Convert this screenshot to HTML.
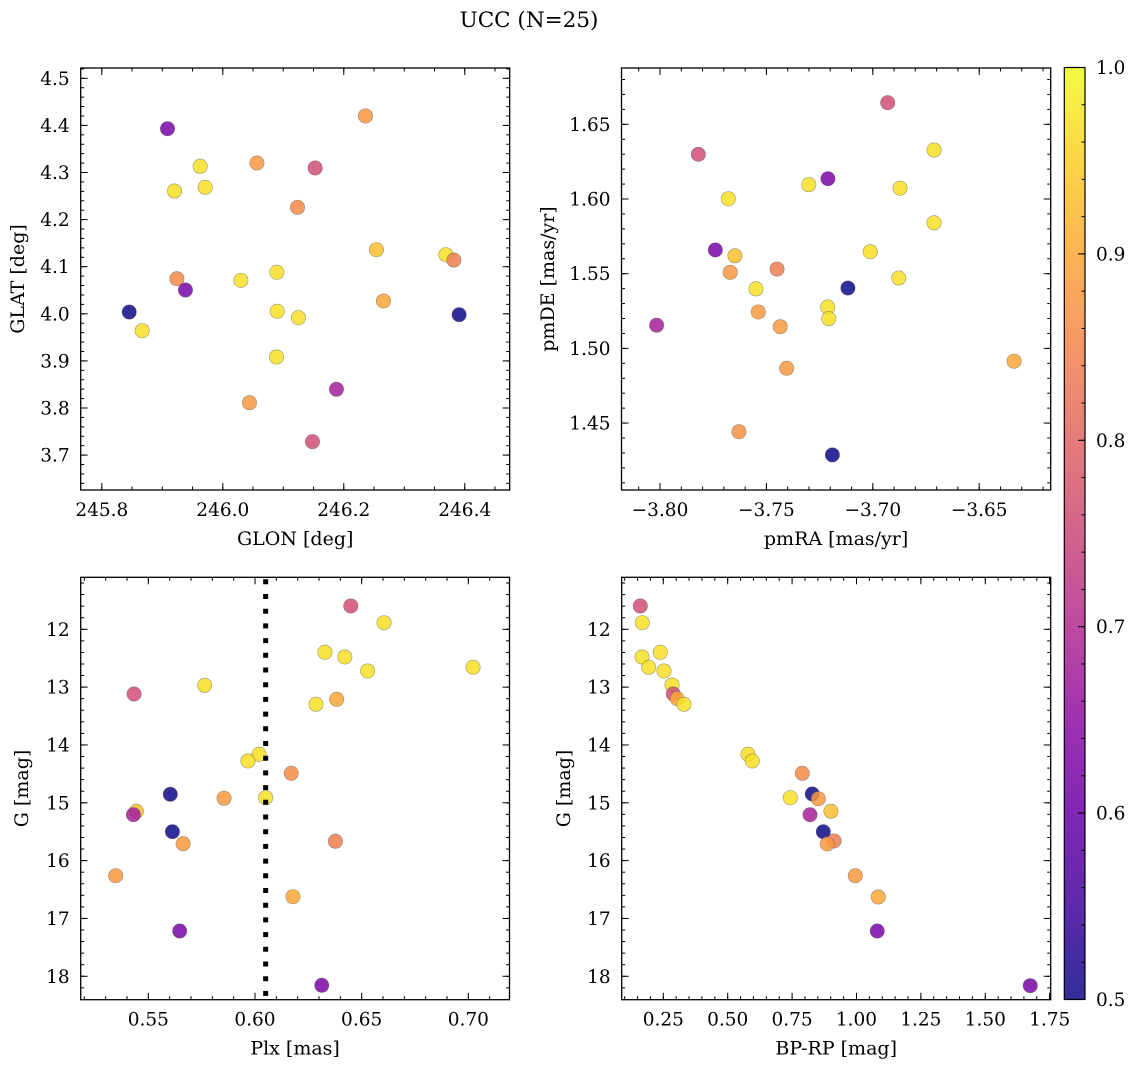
<!DOCTYPE html>
<html><head><meta charset="utf-8"><style>
html,body{margin:0;padding:0;background:#fff;}
svg{display:block;font-family:"DejaVu Serif","Liberation Serif",serif;}
</style></head><body>
<svg id="fig" width="1136" height="1067" viewBox="0 0 1136 1067" xmlns="http://www.w3.org/2000/svg">
<text x="529" y="27" font-size="21.5" text-anchor="middle">UCC (N=25)</text>
<defs><linearGradient id="cbgrad" x1="0" y1="1" x2="0" y2="0"></linearGradient></defs>
</svg>
<script>
// ---- data ----
const glon = [245.9086,246.2359,245.9626,246.0564,246.1527,245.9202,245.9709,246.1235,246.2540,246.3688,246.3820,246.0894,246.0299,245.9241,245.9383,246.2656,245.8453,246.0899,246.1251,246.3907,245.8668,246.0888,246.0441,246.1879,246.1483];
const glat = [4.3930,4.4200,4.3132,4.3202,4.3096,4.2607,4.2686,4.2261,4.1361,4.1255,4.1142,4.0881,4.0711,4.0745,4.0505,4.0272,4.0038,4.0053,3.9917,3.9981,3.9641,3.9083,3.8112,3.8397,3.7285];
const probTL = [0.62,0.88,0.97,0.88,0.76,0.97,0.97,0.86,0.93,0.97,0.84,0.97,0.97,0.86,0.62,0.9,0.5,0.97,0.97,0.5,0.97,0.97,0.88,0.68,0.76];

const pmra = [-3.6930,-3.7820,-3.6712,-3.7211,-3.7301,-3.6872,-3.7679,-3.6712,-3.7740,-3.7648,-3.7012,-3.7670,-3.7450,-3.6878,-3.7549,-3.7117,-3.7212,-3.7207,-3.8016,-3.7538,-3.7435,-3.6336,-3.7405,-3.7629,-3.7190];
const pmde = [1.6645,1.6299,1.6328,1.6136,1.6096,1.6072,1.6002,1.5841,1.5659,1.5620,1.5647,1.5509,1.5531,1.5471,1.5398,1.5404,1.5277,1.5199,1.5155,1.5244,1.5145,1.4914,1.4867,1.4442,1.4287];
const probTR = [0.76,0.76,0.97,0.62,0.97,0.97,0.97,0.97,0.62,0.93,0.97,0.88,0.84,0.97,0.97,0.5,0.97,0.97,0.68,0.88,0.88,0.9,0.88,0.87,0.5];

const plx = [0.6449,0.6605,0.6328,0.6421,0.6528,0.7022,0.5764,0.5433,0.6383,0.6286,0.6019,0.5967,0.6170,0.5603,0.5855,0.6050,0.5444,0.5430,0.5613,0.5663,0.6377,0.5347,0.6178,0.5647,0.6313];
const gmagBL = [11.597,11.886,12.398,12.479,12.721,12.657,12.968,13.119,13.210,13.297,14.161,14.277,14.490,14.853,14.922,14.912,15.147,15.206,15.500,15.707,15.666,16.261,16.624,17.217,18.156];
const probBL = [0.76,0.97,0.97,0.97,0.97,0.97,0.97,0.76,0.9,0.97,0.97,0.97,0.86,0.5,0.88,0.97,0.93,0.68,0.5,0.88,0.84,0.88,0.9,0.62,0.62];

const bprp = [0.1607,0.1685,0.1673,0.2384,0.1933,0.2527,0.2838,0.2888,0.3043,0.3304,0.5788,0.5955,0.7896,0.7430,0.8284,0.8517,0.9010,0.8195,0.8711,0.9127,0.8866,0.9953,1.0846,1.0807,1.6747];
const gmagBR = [11.597,11.886,12.479,12.398,12.657,12.721,12.963,13.119,13.200,13.297,14.161,14.277,14.490,14.912,14.848,14.930,15.147,15.206,15.500,15.660,15.712,16.261,16.629,17.217,18.163];
const probBR = [0.76,0.97,0.97,0.97,0.97,0.97,0.97,0.76,0.9,0.97,0.97,0.97,0.86,0.97,0.5,0.88,0.93,0.68,0.5,0.84,0.88,0.88,0.9,0.62,0.62];

const plxLine = 0.605;

const glonTicks = [245.8,246.0,246.2,246.4];
const glatTicks = [3.7,3.8,3.9,4.0,4.1,4.2,4.3,4.4,4.5];
const pmraTicks = [-3.80,-3.75,-3.70,-3.65];
const pmdeTicks = [1.45,1.50,1.55,1.60,1.65];
const plxTicks = [0.55,0.60,0.65,0.70];
const gTicks = [12,13,14,15,16,17,18];
const bprpTicks = [0.25,0.50,0.75,1.00,1.25,1.50,1.75];
const cbTicks = [0.5,0.6,0.7,0.8,0.9,1.0];

// ---- rendering ----
const NS = "http://www.w3.org/2000/svg";
const svg = document.getElementById('fig');
const plasma = [[13,8,135],[65,4,157],[106,0,168],[143,13,164],[177,42,144],[204,71,120],[225,100,98],[242,132,75],[252,166,54],[252,206,37],[240,249,33]];
function cmap(t){t=Math.max(0,Math.min(1,t));const f=t*10,i=Math.min(9,Math.floor(f)),r=f-i;const a=plasma[i],b=plasma[i+1];
return 'rgb('+a.map((c,k)=>Math.round(c+(b[k]-c)*r)).join(',')+')';}
const vmin=0.5,vmax=1.0;
const TF=18.5, LF=19;
function mk(tag,attrs,parent){const e=document.createElementNS(NS,tag);for(const k in attrs)e.setAttribute(k,attrs[k]);(parent||svg).appendChild(e);return e;}
function fmt(v,d){const s=Math.abs(v).toFixed(d);return (v<-1e-9?'\u2212':'')+s;}

function panel(cfg){
  const g=mk('g',{});
  
  
  const b=cfg.box;
  const sx=v=>b.x0+(v-cfg.xd[0])/(cfg.xd[1]-cfg.xd[0])*(b.x1-b.x0);
  const sy=v=>b.y0+(v-cfg.yd[0])/(cfg.yd[1]-cfg.yd[0])*(b.y1-b.y0);
  const pts=mk('g',{},g);
  
  
  for(let i=0;i<cfg.xs.length;i++){
    const c=mk('circle',{cx:sx(cfg.xs[i]).toFixed(2),cy:sy(cfg.ys[i]).toFixed(2),r:7.2,fill:cmap((cfg.ps[i]-vmin)/(vmax-vmin)),'fill-opacity':0.85,stroke:'rgba(90,90,90,0.6)','stroke-width':0.6},pts);
    
    
  }
  if(cfg.vline!==undefined){
    const l=mk('line',{x1:sx(cfg.vline),x2:sx(cfg.vline),y1:b.y0+2,y2:b.y1,stroke:'#000','stroke-width':5,'stroke-dasharray':'5 9.7'},g);
    
    
  }
  const fr=mk('rect',{x:b.x0,y:b.y0,width:b.x1-b.x0,height:b.y1-b.y0,fill:'none',stroke:'#000','stroke-width':1.3},g);
  
  
  const tk=mk('g',{stroke:'#000','stroke-width':1},g);
  
  
  function xt(v,len){const x=sx(v);if(x<b.x0+0.5||x>b.x1-0.5)return;mk('line',{x1:x,x2:x,y1:b.y1,y2:b.y1-len},tk);mk('line',{x1:x,x2:x,y1:b.y0,y2:b.y0+len},tk);}
  function yt(v,len){const y=sy(v);if(y<b.y0+0.5||y>b.y1-0.5)return;mk('line',{x1:b.x0,x2:b.x0+len,y1:y,y2:y},tk);mk('line',{x1:b.x1,x2:b.x1-len,y1:y,y2:y},tk);}
  const xlo=Math.min(...cfg.xd),xhi=Math.max(...cfg.xd),ylo=Math.min(...cfg.yd),yhi=Math.max(...cfg.yd);
  for(let v=Math.ceil(xlo/cfg.xmin)*cfg.xmin;v<=xhi;v+=cfg.xmin)xt(v,3.5);
  for(let v=Math.ceil(ylo/cfg.ymin)*cfg.ymin;v<=yhi;v+=cfg.ymin)yt(v,3.5);
  cfg.xt.forEach(v=>xt(v,7));
  cfg.yt.forEach(v=>yt(v,7));
  cfg.xt.forEach(v=>{const t=mk('text',{x:sx(v),y:b.y1+26,'font-size':TF,'text-anchor':'middle'},g);t.textContent=fmt(v,cfg.xdec);
    
    });
  cfg.yt.forEach(v=>{const t=mk('text',{x:b.x0-11,y:sy(v)+6.5,'font-size':TF,'text-anchor':'end'},g);t.textContent=fmt(v,cfg.ydec);
    
    });
  const xl=mk('text',{x:(b.x0+b.x1)/2,y:b.y1+55,'font-size':LF,'text-anchor':'middle'},g);xl.textContent=cfg.xlabel;
  
  
  const cy=(b.y0+b.y1)/2;
  const yl=mk('text',{x:cfg.ylx,y:cy,'font-size':LF,'text-anchor':'middle',transform:'rotate(-90 '+cfg.ylx+' '+cy+')'},g);yl.textContent=cfg.ylabel;
  
  
}

panel({name:'glon-glat-panel',box:{x0:80.7,x1:509.7,y0:68,y1:490},xd:[245.7651,246.4743],yd:[4.5219,3.6259],xs:glon,ys:glat,ps:probTL,
  xt:glonTicks,yt:glatTicks,xmin:0.05,ymin:0.02,xdec:1,ydec:1,xlabel:'GLON [deg]',ylabel:'GLAT [deg]',ylx:24});
panel({name:'pm-panel',box:{x0:621.5,x1:1050.7,y0:68,y1:490},xd:[-3.8181,-3.6164],yd:[1.6877,1.4052],xs:pmra,ys:pmde,ps:probTR,
  xt:pmraTicks,yt:pmdeTicks,xmin:0.01,ymin:0.01,xdec:2,ydec:2,xlabel:'pmRA [mas/yr]',ylabel:'pmDE [mas/yr]',ylx:554});
panel({name:'plx-g-panel',box:{x0:80.7,x1:509.5,y0:577.3,y1:999.7},xd:[0.5183,0.7193],yd:[11.101,18.405],xs:plx,ys:gmagBL,ps:probBL,
  xt:plxTicks,yt:gTicks,xmin:0.01,ymin:0.2,xdec:2,ydec:0,xlabel:'Plx [mas]',ylabel:'G [mag]',ylx:28,vline:plxLine});
panel({name:'cmd-panel',box:{x0:621.7,x1:1050.7,y0:577.3,y1:999.7},xd:[0.0885,1.754],yd:[11.101,18.405],xs:bprp,ys:gmagBR,ps:probBR,
  xt:bprpTicks,yt:gTicks,xmin:0.05,ymin:0.2,xdec:2,ydec:0,xlabel:'BP-RP [mag]',ylabel:'G [mag]',ylx:570});

// colorbar
const grad=document.getElementById('cbgrad');
for(let i=0;i<=20;i++){mk('stop',{offset:(i/20),'stop-color':cmap(i/20)},grad);}
const cb={x0:1064.3,x1:1085,y0:67.5,y1:999.5};
const cbg=mk('g',{});


mk('rect',{x:cb.x0,y:cb.y0,width:cb.x1-cb.x0,height:cb.y1-cb.y0,fill:'url(#cbgrad)','fill-opacity':0.85},cbg);
mk('rect',{x:cb.x0,y:cb.y0,width:cb.x1-cb.x0,height:cb.y1-cb.y0,fill:'none',stroke:'#000','stroke-width':1.2},cbg);
const cby=v=>cb.y1-(v-vmin)/(vmax-vmin)*(cb.y1-cb.y0);
for(let v=0.52;v<1.0;v+=0.02){const y=cby(v);mk('line',{x1:cb.x1,x2:cb.x1-3.5,y1:y,y2:y,stroke:'#000'},cbg);}
cbTicks.forEach(v=>{const y=cby(v);mk('line',{x1:cb.x1,x2:cb.x1-7,y1:y,y2:y,stroke:'#000'},cbg);
  const t=mk('text',{x:1096,y:y+6.5,'font-size':TF},cbg);t.textContent=v.toFixed(1);
  
  });
</script>
</body></html>
